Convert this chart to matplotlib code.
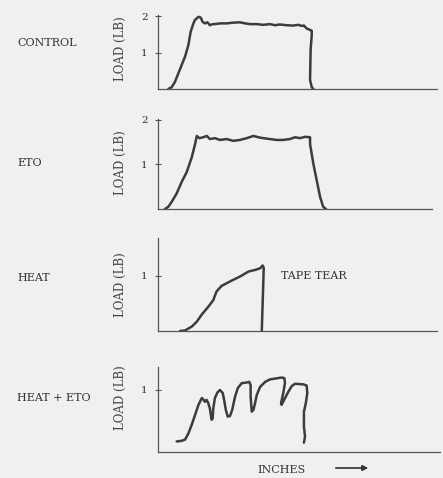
import matplotlib
matplotlib.use("Agg")
import matplotlib.pyplot as plt

# Tape peel traces, load (lb) vs chart travel (arbitrary inches)
control_x = [0.37, 0.49, 0.61, 0.73, 0.85, 0.97, 1.09, 1.17, 1.27, 1.32, 1.45, 1.53, 1.60, 1.68,
             1.77, 1.86, 1.96, 2.04, 2.22, 2.46, 2.70, 2.94, 3.12, 3.30, 3.54, 3.78, 4.01, 4.19,
             4.37, 4.61, 4.85, 5.03, 5.15, 5.23, 5.33, 5.45, 5.51, 5.51, 5.47, 5.45, 5.51, 5.57]
control_y = [0.0, 0.05, 0.20, 0.43, 0.66, 0.89, 1.21, 1.57, 1.80, 1.89, 1.98, 1.96, 1.84, 1.80,
             1.83, 1.75, 1.78, 1.78, 1.80, 1.80, 1.82, 1.83, 1.80, 1.78, 1.78, 1.76, 1.78, 1.75,
             1.77, 1.75, 1.74, 1.76, 1.73, 1.74, 1.66, 1.62, 1.60, 1.48, 1.07, 0.25, 0.05, 0.0]

eto_x = [0.25, 0.37, 0.49, 0.67, 0.85, 1.03, 1.21, 1.33, 1.39, 1.48, 1.62, 1.75, 1.86, 2.04,
         2.22, 2.46, 2.70, 2.94, 3.18, 3.42, 3.60, 3.77, 4.01, 4.25, 4.49, 4.73, 4.91, 5.09,
         5.27, 5.45, 5.45, 5.57, 5.69, 5.81, 5.92, 6.02]
eto_y = [0.0, 0.05, 0.16, 0.35, 0.61, 0.83, 1.16, 1.46, 1.64, 1.59, 1.61, 1.64, 1.57, 1.59,
         1.55, 1.57, 1.53, 1.55, 1.59, 1.64, 1.61, 1.59, 1.57, 1.55, 1.55, 1.57, 1.61, 1.59,
         1.62, 1.61, 1.46, 1.01, 0.64, 0.27, 0.05, 0.0]

heat_x = [0.79, 0.97, 1.21, 1.39, 1.57, 1.80, 1.98, 2.10, 2.28, 2.58, 2.94, 3.24, 3.48, 3.66,
          3.75, 3.79, 3.72]
heat_y = [0.0, 0.01, 0.08, 0.17, 0.30, 0.44, 0.56, 0.72, 0.82, 0.90, 0.99, 1.08, 1.11, 1.14,
          1.19, 1.15, 0.0]

heat_eto_x = [0.67, 0.85, 0.97, 1.09, 1.21, 1.33, 1.45, 1.57, 1.62, 1.68, 1.74, 1.80, 1.86, 1.92,
              1.96, 1.98, 2.04, 2.13, 2.22, 2.32, 2.37, 2.43, 2.50, 2.58, 2.66, 2.76, 2.86, 3.00,
              3.18, 3.27, 3.32, 3.32, 3.36, 3.42, 3.48, 3.54, 3.66, 3.84, 4.01, 4.43, 4.53, 4.55,
              4.49, 4.41, 4.43, 4.52, 4.67, 4.79, 4.91, 5.21, 5.33, 5.35, 5.30, 5.23, 5.23, 5.27,
              5.23]
heat_eto_y = [0.17, 0.18, 0.20, 0.30, 0.44, 0.60, 0.76, 0.87, 0.85, 0.81, 0.84, 0.79, 0.70, 0.52,
              0.54, 0.70, 0.87, 0.96, 1.00, 0.95, 0.84, 0.68, 0.57, 0.58, 0.68, 0.89, 1.03, 1.11,
              1.12, 1.13, 1.08, 0.89, 0.65, 0.68, 0.79, 0.92, 1.05, 1.13, 1.17, 1.20, 1.19, 1.11,
              0.95, 0.79, 0.76, 0.84, 0.97, 1.06, 1.10, 1.09, 1.07, 0.95, 0.79, 0.65, 0.41, 0.25,
              0.15]

names = ["CONTROL", "ETO", "HEAT", "HEAT + ETO"]
series = [(control_x, control_y), (eto_x, eto_y), (heat_x, heat_y), (heat_eto_x, heat_eto_y)]
yticks = [[1, 2], [1, 2], [1], [1]]
ytops = [2.03, 2.02, 1.69, 1.37]

bg = "#f0f0f0"
ink = "#3c3c3c"
plt.rcParams["font.family"] = "DejaVu Serif"

fig = plt.figure(figsize=(4.43, 4.78), dpi=100, facecolor=bg)

# axes boxes in pixels: left, top, right, bottom
boxes = [(158, 15, 437, 89), (158, 119, 432, 209), (158, 238, 437, 331), (158, 367, 440, 452)]
name_y = [43, 163, 278, 398]
ylabel_pos = [0.55, 0.52, 0.50, 0.64]
px_per_unit = 27.9
W, H = 443.0, 478.0

for i, (name, (xs, ys)) in enumerate(zip(names, series)):
    l, t, r, b = boxes[i]
    ax = fig.add_axes([l / W, 1 - b / H, (r - l) / W, (b - t) / H])
    ax.set_facecolor(bg)
    ax.plot(xs, ys, color=ink, lw=1.8, solid_joinstyle="round", solid_capstyle="round")
    ax.set_xlim(0, (r - l) / px_per_unit)
    ax.set_ylim(0, ytops[i])
    for s in ["top", "right"]:
        ax.spines[s].set_visible(False)
    for s in ["left", "bottom"]:
        ax.spines[s].set_color("#555555")
        ax.spines[s].set_linewidth(0.9)
    ax.set_xticks([])
    ax.set_yticks(yticks[i])
    ax.tick_params(axis="y", direction="inout", length=5, width=0.8, colors="#555555",
                   labelcolor="#333333", labelsize=7.5, pad=5)
    ax.set_ylabel("LOAD (LB)", fontsize=8.5, color="#444444")
    ax.yaxis.set_label_coords(-31.0 / (r - l), ylabel_pos[i])
    fig.text(17 / W, 1 - name_y[i] / H, name, fontsize=8, color="#333333",
             ha="left", va="center")

# small break in the control baseline
ax0 = fig.axes[0]
ax0.plot([1.09, 1.22], [0, 0], color=bg, lw=2.5, solid_capstyle="butt", clip_on=False)

# tape tear note
fig.axes[2].text(4.4, 1.0, "TAPE TEAR", fontsize=8, color="#333333", va="center", ha="left")

# x label with arrow
fig.text(282 / W, 1 - 470 / H, "INCHES", fontsize=8, color="#333333", ha="center", va="center")
fig.add_artist(matplotlib.patches.FancyArrowPatch((333 / W, 1 - 468 / H), (371 / W, 1 - 468 / H),
                                                  transform=fig.transFigure, arrowstyle="-|>",
                                                  mutation_scale=8, color="#333333", lw=1.2))

fig.savefig("out.png", dpi=100, facecolor=bg)
